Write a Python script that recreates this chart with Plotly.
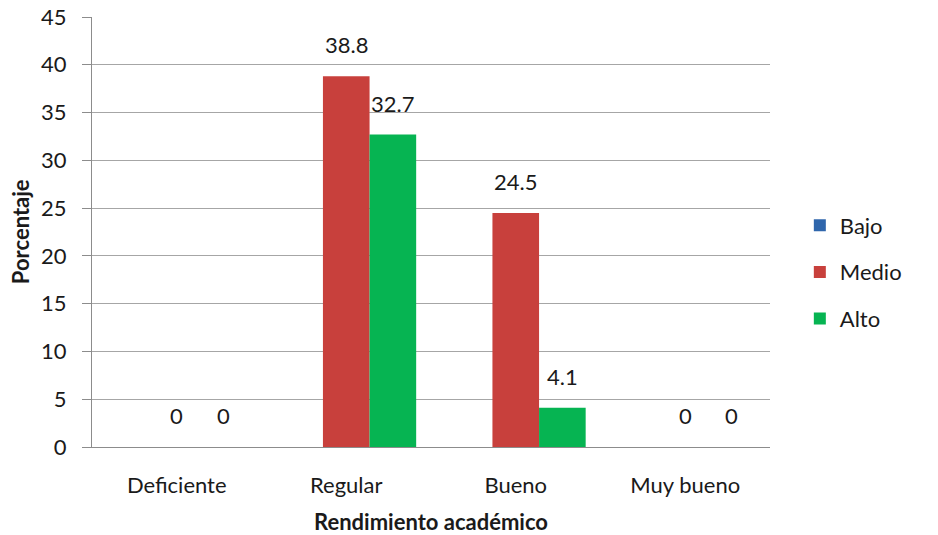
import plotly.graph_objects as go

categories = ["Deficiente", "Regular", "Bueno", "Muy bueno"]
series_names = ["Bajo", "Medio", "Alto"]
bajo = [None, None, None, None]
medio = [0, 38.8, 24.5, 0]
alto = [0, 32.7, 4.1, 0]
y_ticks = [0, 5, 10, 15, 20, 25, 30, 35, 40, 45]

colors = ["#2F66AC", "#C8403C", "#06B452"]
FONT = "Lato, Open Sans, sans-serif"
FS = 22
BARGAP = 0.175

fig = go.Figure()
all_values = [bajo, medio, alto]
for i, (name, vals) in enumerate(zip(series_names, all_values)):
    fig.add_trace(go.Bar(
        x=categories, y=vals, name=name,
        marker=dict(color=colors[i], line=dict(width=0)),
        legendgroup=name,
    ))

# value labels above bars
n = len(series_names)
bw = (1 - BARGAP) / n
for i, vals in enumerate(all_values):
    for j, v in enumerate(vals):
        if v is None:
            continue
        fig.add_annotation(
            x=j + (i - (n - 1) / 2) * bw, y=v, text=str(v),
            showarrow=False, yanchor="bottom", yshift=16,
            font=dict(family=FONT, size=FS, color="#1a1a1a"),
        )

# y-axis title
fig.add_annotation(
    text="<b>Porcentaje</b>", xref="paper", yref="paper",
    x=-0.106, y=0.5, textangle=-90, showarrow=False,
    xanchor="center", yanchor="middle",
    font=dict(family=FONT, size=FS, color="#1a1a1a"),
)

fig.update_layout(
    width=938, height=535,
    margin=dict(l=92, r=168, t=17, b=88, autoexpand=False),
    paper_bgcolor="white", plot_bgcolor="white",
    barmode="group", bargap=BARGAP, bargroupgap=0,
    font=dict(family=FONT, size=FS, color="#1a1a1a"),
    showlegend=True,
    legend=dict(x=1.044, y=0.407, xanchor="left", yanchor="middle",
                font=dict(family=FONT, size=FS, color="#1a1a1a"),
                tracegroupgap=15, itemwidth=30, traceorder="grouped"),
    xaxis=dict(
        automargin=False,
        title=dict(text="<b>Rendimiento académico</b>", font=dict(family=FONT, size=FS), standoff=22),
        showline=True, linecolor="#8c8c8c", linewidth=1,
        showgrid=False, ticks="", ticklabelstandoff=19,
        tickfont=dict(family=FONT, size=FS),
    ),
    yaxis=dict(
        automargin=False,
        range=[0, 45], tickvals=y_ticks,
        showline=True, linecolor="#8c8c8c", linewidth=1,
        showgrid=True, gridcolor="#a6a6a6", gridwidth=1,
        ticks="outside", ticklen=9, tickcolor="#8c8c8c", ticklabelstandoff=11,
        tickfont=dict(family=FONT, size=FS),
        zeroline=False,
    ),
)

fig.write_html("out.html", config={"displayModeBar": False},
               post_script="document.body.style.margin='0';")
